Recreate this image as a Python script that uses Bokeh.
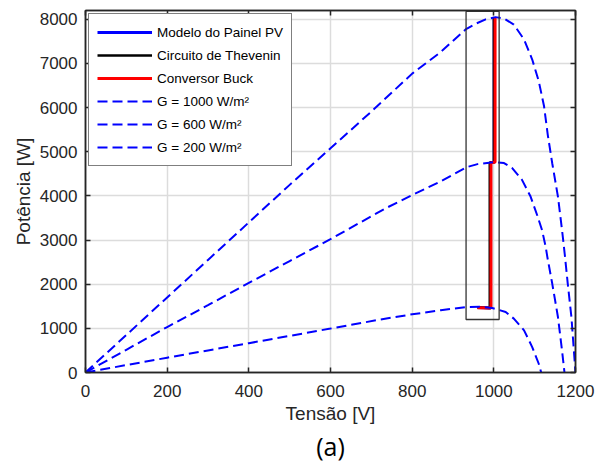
from bokeh.plotting import figure
from bokeh.models import Range1d, LinearAxis, Legend, LegendItem, Title, FixedTicker, CustomJSTickFormatter
from bokeh.embed import file_html
from bokeh.resources import INLINE

# ---- data ----
v_g1000 = [0, 100, 200, 300, 400, 500, 600, 700, 800, 870, 932, 958, 980, 1004, 1025, 1049, 1074,
           1094, 1110, 1123, 1132, 1143, 1157, 1167, 1174, 1181, 1190, 1196, 1200]
p_g1000 = [0, 850, 1700, 2550, 3400, 4250, 5080, 5910, 6770, 7260, 7780, 7910, 8000, 8050, 8020,
           7880, 7545, 7090, 6600, 6030, 5390, 4740, 3985, 3230, 2650, 2015, 1258, 500, 0]

v_g600 = [0, 100, 200, 300, 400, 500, 600, 735, 800, 870, 933, 960, 1000, 1025, 1045, 1069, 1090,
          1106, 1118, 1127, 1131, 1143, 1157, 1167, 1173]
p_g600 = [0, 515, 1030, 1525, 2030, 2525, 3020, 3720, 4020, 4330, 4650, 4720, 4765, 4743, 4630,
          4364, 3985, 3568, 3227, 2848, 2620, 2015, 1258, 500, 0]

v_g200 = [0, 100, 200, 300, 400, 500, 600, 722, 800, 870, 933, 965, 996, 1029, 1049, 1074, 1094,
          1110, 1116]
p_g200 = [0, 168, 335, 500, 665, 830, 995, 1200, 1318, 1410, 1485, 1490, 1461, 1371, 1220, 955,
          576, 198, 0]

v_model = [960, 992, 992, 1001, 1001]
p_model = [1470, 1462, 4755, 4762, 8040]
v_thevenin = [960, 990, 990, 1000, 1000]
p_thevenin = [1470, 1462, 4755, 4762, 8040]
v_buck = [960, 993, 993, 1003, 1003]
p_buck = [1468, 1460, 4750, 4760, 8035]

zoom_box_v = [932, 1013]
zoom_box_p = [1200, 8180]

x_ticks = [0, 200, 400, 600, 800, 1000, 1200]
y_ticks = [0, 1000, 2000, 3000, 4000, 5000, 6000, 7000, 8000]

FONT = "Liberation Sans"
TXT = "#262626"

p = figure(width=595, height=467, x_range=Range1d(0, 1200), y_range=Range1d(0, 8200),
           output_backend="svg", toolbar_location=None,
           min_border_left=85, min_border_right=20, min_border_top=10, min_border_bottom=95)
p.background_fill_color = "white"
p.border_fill_color = "white"
p.outline_line_color = TXT
p.outline_line_width = 1.5

for ax in (p.xaxis[0], p.yaxis[0]):
    ax.major_label_text_font = FONT
    ax.major_label_text_font_size = "17px"
    ax.major_label_text_color = TXT
    ax.axis_label_text_font = FONT
    ax.axis_label_text_font_size = "19px"
    ax.axis_label_text_font_style = "normal"
    ax.axis_label_text_color = TXT
    ax.major_tick_in = 5
    ax.major_tick_out = 0
    ax.minor_tick_in = 0
    ax.minor_tick_out = 0
    ax.axis_line_color = TXT
    ax.axis_line_width = 1.5
    ax.major_tick_line_color = TXT
    ax.major_tick_line_width = 1.5

p.xaxis[0].ticker = FixedTicker(ticks=x_ticks)
p.yaxis[0].ticker = FixedTicker(ticks=y_ticks)
p.xaxis[0].axis_label = "Tensão [V]"
p.yaxis[0].axis_label = "Potência [W]"
p.xaxis[0].major_label_standoff = 12
p.yaxis[0].major_label_standoff = 8
p.xaxis[0].axis_label_standoff = 3
p.yaxis[0].axis_label_standoff = 3

blank = CustomJSTickFormatter(code="return ''")
for loc, tk in (("right", y_ticks), ("above", x_ticks)):
    ax = LinearAxis(ticker=FixedTicker(ticks=tk), formatter=blank,
                    major_tick_in=5, major_tick_out=0, minor_tick_in=0, minor_tick_out=0,
                    axis_line_color=TXT, axis_line_width=1.5,
                    major_tick_line_color=TXT, major_tick_line_width=1.5,
                    major_label_standoff=0)
    p.add_layout(ax, loc)

p.xgrid.ticker = FixedTicker(ticks=x_ticks)
p.ygrid.ticker = FixedTicker(ticks=y_ticks)
p.grid.grid_line_color = "#dcdcdc"
p.grid.grid_line_width = 1.5

DASH = "10 5"
r_model = p.line(v_model, p_model, line_color="#0000ff", line_width=3)
r_thev = p.line(v_thevenin, p_thevenin, line_color="black", line_width=2.5)
r_buck = p.line(v_buck, p_buck, line_color="#ff0000", line_width=3)
r1000 = p.line(v_g1000, p_g1000, line_color="#0000ff", line_width=2, line_dash=DASH)
r600 = p.line(v_g600, p_g600, line_color="#0000ff", line_width=2, line_dash=DASH)
r200 = p.line(v_g200, p_g200, line_color="#0000ff", line_width=2, line_dash=DASH)

p.quad(left=[zoom_box_v[0]], right=[zoom_box_v[1]], bottom=[zoom_box_p[0]], top=[zoom_box_p[1]],
       fill_alpha=0, line_color="#333333", line_width=1.3)

legend = Legend(items=[
    LegendItem(label="Modelo do Painel PV", renderers=[r_model]),
    LegendItem(label="Circuito de Thevenin", renderers=[r_thev]),
    LegendItem(label="Conversor Buck", renderers=[r_buck]),
    LegendItem(label="G = 1000 W/m²", renderers=[r1000]),
    LegendItem(label="G = 600 W/m²", renderers=[r600]),
    LegendItem(label="G = 200 W/m²", renderers=[r200]),
], location="top_left")
legend.label_text_font = FONT
legend.label_text_font_size = "13.5px"
legend.label_text_color = "black"
legend.glyph_width = 55
legend.glyph_height = 20
legend.label_height = 20
legend.spacing = 3
legend.padding = 8
legend.margin = 3
legend.label_standoff = 5
legend.border_line_color = "black"
legend.border_line_width = 1
legend.background_fill_alpha = 1
p.add_layout(legend)

p.add_layout(Title(text="(a)", align="center", text_font="Open Sans", text_font_size="25px",
                   text_font_style="normal", text_color="black", standoff=0, offset=0), "below")

open("out.html", "w").write(file_html(p, INLINE))
